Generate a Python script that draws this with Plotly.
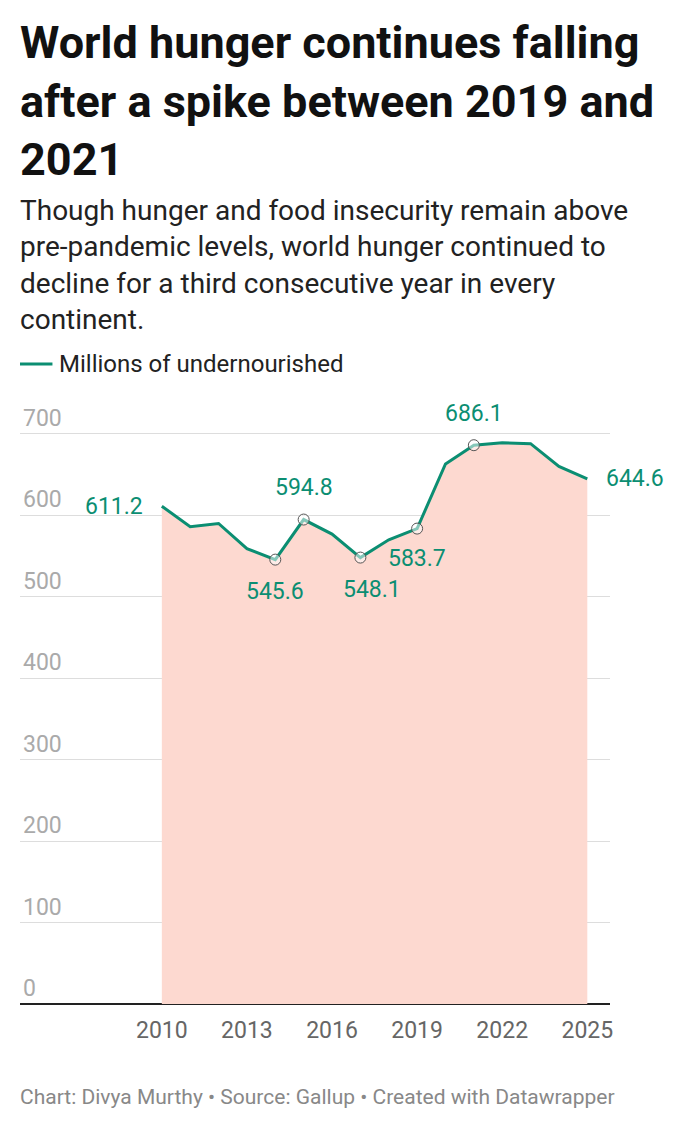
import plotly.graph_objects as go

years = list(range(2010, 2026))
hungry = [611.2, 586, 590, 559, 545.6, 594.8, 577, 548.1, 570, 583.7, 663, 686.1, 689, 688, 660, 644.6]
labelled = {2010: ("611.2", -48, 0), 2014: ("545.6", 0, 32), 2015: ("594.8", 0, -32),
            2017: ("548.1", 12, 32), 2019: ("583.7", 0, 30), 2021: ("686.1", 0, -32),
            2025: ("644.6", 48, 0)}
marked = [2014, 2015, 2017, 2019, 2021]
y_ticks = [0, 100, 200, 300, 400, 500, 600, 700]
x_ticks = [2010, 2013, 2016, 2019, 2022, 2025]

GREEN = "#0b8e72"
TOP, BOTTOM = 377, 996


def py(px):
    # px measured on the screenshot (page has an 8px body offset)
    return (BOTTOM - (px - 8)) / (BOTTOM - TOP)


fig = go.Figure()
fig.add_trace(go.Scatter(x=years, y=hungry, mode="lines", fill="tozeroy",
                         fillcolor="#fdd9d0", line=dict(color=GREEN, width=3)))
fig.add_trace(go.Scatter(x=marked, y=[hungry[years.index(y)] for y in marked], mode="markers",
                         marker=dict(size=11, color="rgba(255,255,255,0.5)",
                                     line=dict(color="#555", width=1))))

for yr, (txt, ax, ay) in labelled.items():
    fig.add_annotation(x=yr, y=hungry[years.index(yr)], text=txt, showarrow=True, arrowcolor="rgba(0,0,0,0)",
                       ax=ax, ay=ay, font=dict(size=23, color=GREEN))

fig.add_annotation(xref="paper", yref="paper", x=-0.003, y=py(14), xanchor="left", yanchor="top", align="left",
                   showarrow=False, text="<b>World hunger continues falling<br>after a spike between 2019 and<br>2021</b>",
                   font=dict(size=45, color="#111"))
fig.add_annotation(xref="paper", yref="paper", x=-0.003, y=py(192), xanchor="left", yanchor="top", align="left",
                   showarrow=False, font=dict(size=28, color="#222"),
                   text="Though hunger and food insecurity remain above<br>pre-pandemic levels, world hunger continued to<br>decline for a third consecutive year in every<br>continent.")
fig.add_shape(type="line", xref="paper", yref="paper", x0=0, x1=0.055, y0=py(364), y1=py(364),
              line=dict(color=GREEN, width=3))
fig.add_annotation(xref="paper", yref="paper", x=0.063, y=py(364), xanchor="left", yanchor="middle",
                   showarrow=False, text="Millions of undernourished", font=dict(size=24, color="#222"))
fig.add_annotation(xref="paper", yref="paper", x=-0.003, y=py(1097), xanchor="left", yanchor="middle",
                   showarrow=False, text="Chart: Divya Murthy • Source: Gallup • Created with Datawrapper",
                   font=dict(size=21, color="#888"))

fig.update_layout(
    width=680, height=1130, showlegend=False,
    plot_bgcolor="white", paper_bgcolor="white",
    font=dict(family="Roboto, sans-serif"),
    margin=dict(l=12, r=78, t=TOP, b=1130 - BOTTOM),
    xaxis=dict(range=[2005, 2025.8], tickvals=x_ticks, showgrid=False, zeroline=False,
               tickfont=dict(size=23, color="#666"), ticks="", ticklabelstandoff=10),
    yaxis=dict(range=[0, 760], tickvals=y_ticks, ticklabelposition="inside top", gridcolor="#ddd",
               tickfont=dict(size=23, color="#aaa"), zeroline=True, zerolinecolor="#222", zerolinewidth=1.5),
)
fig.write_html("out.html")
